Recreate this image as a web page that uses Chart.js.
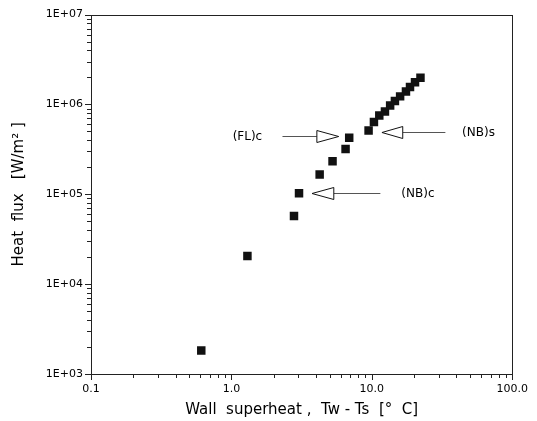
<!DOCTYPE html>
<html>
<head>
<meta charset="utf-8">
<script src="https://cdn.jsdelivr.net/npm/chart.js@4"></script>
<style>
  html, body { margin: 0; padding: 0; background: #fff; }
  #wrap { width: 537px; height: 421px; }
</style>
</head>
<body>
<div id="wrap"><canvas id="chart"></canvas></div>
<script>
// measured points, wall superheat [C] vs heat flux [W/m2]
const superheat = [0.61, 1.30, 2.79, 3.03, 4.25, 5.25, 6.50, 6.90, 9.48, 10.35, 11.3, 12.4, 13.5, 14.6, 15.9, 17.5, 18.7, 20.3, 22.2];
const heatFlux = [1.83e3, 2.06e4, 5.74e4, 1.03e5, 1.66e5, 2.33e5, 3.19e5, 4.27e5, 5.14e5, 6.36e5, 7.55e5, 8.36e5, 9.75e5, 1.09e6, 1.23e6, 1.39e6, 1.56e6, 1.77e6, 1.98e6];

const xTicks = [0.1, 1, 10, 100];
const yTicks = [1e3, 1e4, 1e5, 1e6, 1e7];

// arrow annotations (data coordinates)
const noteLabels = ['(FL)c', '(NB)s', '(NB)c'];
const noteLabelX = [1.3, 57.5, 21.3];
const noteY = [4.41e5, 4.89e5, 1.04e5];
const arrowTipX = [5.81, 11.8, 3.75];
const arrowBaseX = [4.06, 16.6, 5.36];
const arrowTailX = [2.31, 33.4, 11.5];

const FONT = 'DejaVu Sans';

const frameAndNotes = {
    id: 'frameAndNotes',
    afterDraw(chart) {
        const { ctx, chartArea: a, scales: { x, y } } = chart;
        ctx.save();
        ctx.strokeStyle = '#222';
        ctx.lineWidth = 1;
        ctx.strokeRect(Math.round(a.left) + 0.5, Math.round(a.top) + 0.5,
            Math.round(a.right - a.left), Math.round(a.bottom - a.top));

        // log ticks, outward
        ctx.beginPath();
        for (let d = -1; d < 2; d++) {
            for (let m = 1; m <= 10; m++) {
                const v = m * Math.pow(10, d);
                const px = Math.round(x.getPixelForValue(v)) + 0.5;
                const len = (m === 1 || m === 10) ? 6 : 4;
                ctx.moveTo(px, a.bottom);
                ctx.lineTo(px, a.bottom + len);
            }
        }
        for (let d = 3; d < 7; d++) {
            for (let m = 1; m <= 10; m++) {
                const v = m * Math.pow(10, d);
                const py = Math.round(y.getPixelForValue(v)) + 0.5;
                const len = (m === 1 || m === 10) ? 6 : 4;
                ctx.moveTo(a.left, py);
                ctx.lineTo(a.left - len, py);
            }
        }
        ctx.stroke();

        // arrows and labels
        ctx.font = '12px ' + FONT;
        ctx.textAlign = 'center';
        ctx.textBaseline = 'middle';
        noteLabels.forEach((txt, i) => {
            const py = Math.round(y.getPixelForValue(noteY[i])) + 0.5;
            const tip = x.getPixelForValue(arrowTipX[i]);
            const base = x.getPixelForValue(arrowBaseX[i]);
            const tail = x.getPixelForValue(arrowTailX[i]);
            ctx.strokeStyle = '#555';
            ctx.beginPath();
            ctx.moveTo(tail, py);
            ctx.lineTo(base, py);
            ctx.stroke();
            ctx.strokeStyle = '#111';
            ctx.fillStyle = '#fff';
            ctx.beginPath();
            ctx.moveTo(tip, py);
            ctx.lineTo(base, py - 6);
            ctx.lineTo(base, py + 6);
            ctx.closePath();
            ctx.fill();
            ctx.stroke();
            ctx.fillStyle = '#000';
            ctx.fillText(txt, x.getPixelForValue(noteLabelX[i]), py);
        });
        ctx.restore();
    }
};

new Chart(document.getElementById('chart'), {
    type: 'scatter',
    data: {
        datasets: [{
            data: superheat.map((v, i) => ({ x: v, y: heatFlux[i] })),
            pointStyle: 'rect',
            pointRadius: 6,
            pointHoverRadius: 6,
            backgroundColor: '#111',
            borderColor: '#111',
            borderWidth: 0
        }]
    },
    options: {
        responsive: true,
        maintainAspectRatio: false,
        animation: false,
        layout: { padding: { top: 14, right: 19, left: 0, bottom: 0 } },
        plugins: { legend: { display: false }, tooltip: { enabled: false } },
        scales: {
            x: {
                type: 'logarithmic',
                min: 0.1,
                max: 100,
                grid: { display: false, drawTicks: false },
                border: { display: false },
                afterBuildTicks: s => { s.ticks = xTicks.map(v => ({ value: v })); },
                afterFit: s => { s.height = 47; },
                ticks: {
                    padding: 9,
                    maxRotation: 0,
                    color: '#000',
                    font: { family: FONT, size: 11 },
                    callback: v => Number(v).toFixed(1)
                },
                title: {
                    display: true,
                    text: 'Wall  superheat ,  Tw - Ts  [°  C]',
                    color: '#000',
                    font: { family: FONT, size: 15 },
                    padding: { top: 0, bottom: 2 }
                }
            },
            y: {
                type: 'logarithmic',
                min: 1e3,
                max: 1e7,
                grid: { display: false, drawTicks: false },
                border: { display: false },
                afterBuildTicks: s => { s.ticks = yTicks.map(v => ({ value: v })); },
                afterFit: s => { s.width = 91; },
                ticks: {
                    padding: 8,
                    color: '#000',
                    font: { family: FONT, size: 11 },
                    callback: v => '1E+0' + Math.round(Math.log10(v))
                },
                title: {
                    display: true,
                    text: 'Heat  flux   [W/m² ]',
                    color: '#000',
                    font: { family: FONT, size: 15 },
                    padding: { top: 10, bottom: 0 }
                }
            }
        }
    },
    plugins: [frameAndNotes]
});
</script>
</body>
</html>
